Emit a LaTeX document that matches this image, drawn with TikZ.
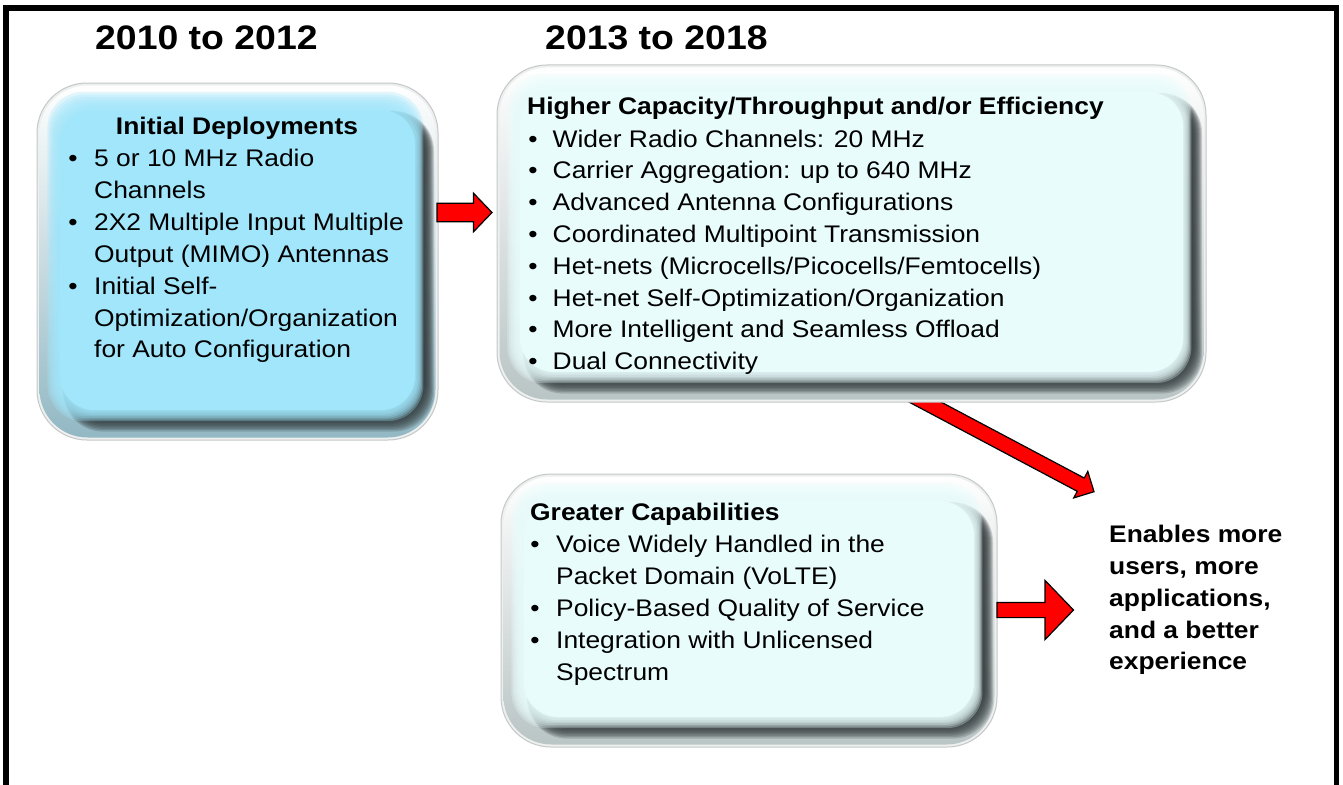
\documentclass[tikz,border=0pt]{standalone}
\usepackage{fontspec}
\setmainfont[FakeStretch=1.1]{Liberation Sans}
\usetikzlibrary{calc,fit}
\definecolor{facea}{HTML}{A1E6FB}
\definecolor{faceb}{HTML}{E8FCFC}
\definecolor{rimc}{HTML}{EEF0F0}
\definecolor{rimedge}{HTML}{C4C8C8}
\definecolor{darkbev}{HTML}{2F3739}
\definecolor{arrowred}{HTML}{FF0000}
\tikzset{
 txt/.style={anchor=base west, inner sep=0pt, font=\fontsize{24}{31.8}\selectfont},
 btxt/.style={anchor=base west, inner sep=0pt, font=\fontsize{24}{31.8}\selectfont\bfseries},
 bul/.style={anchor=base, inner sep=0pt, font=\fontsize{24}{31.8}\selectfont},
 yeartxt/.style={anchor=base west, inner sep=0pt, font=\fontsize{34}{38}\selectfont\bfseries},
 blockarrow/.style={fill=arrowred, draw=black, line width=1.2pt, line join=miter},
 frameline/.style={draw=black, line width=5.5pt, line join=miter},
}
\newcommand\bevelbox[7]{%
 \fill[rimc, draw=rimedge, line width=1pt, rounded corners=50pt] (#2,#3) rectangle (#4,#5);
 \begin{scope}
  \clip[rounded corners=48pt] ({#2+2.5},{#3+2.5}) rectangle ({#4-2.5},{#5-2.5});
  \shade[top color=white, bottom color=#7] (#2,#3) rectangle (#4,#5);
  \foreach \k in {0,...,9}{
   \fill[darkbev, opacity=0.2, rounded corners=40pt] ({#2+26},{#3+28}) rectangle ({#4-13+\k},{#5-21+1.4*\k});}
  \foreach \k in {7,6,...,1}{
   \fill[#6, opacity=0.3, rounded corners=36pt] ({#2+23-1.8*\k},{#3+27-2.6*\k}) rectangle ({#4-23+1.2*\k},{#5-30+1.6*\k});}
  \fill[#6, rounded corners=34pt] ({#2+23},{#3+27}) rectangle ({#4-23},{#5-30});
 \end{scope}
 \node[inner sep=0pt, fit={(#2,#3) (#4,#5)}] (#1) {};
}
\newcommand\blockarr[5]{%
 \coordinate (#1h) at ($(#2)!#5!(#1)$);
 \draw[blockarrow] ($(#1)!#3!90:(#2)$) -- ($(#1h)!#3!90:(#2)$) -- ($(#1h)!#4!90:(#2)$) -- (#2)
   -- ($(#1h)!#4!-90:(#2)$) -- ($(#1h)!#3!-90:(#2)$) -- ($(#1)!#3!-90:(#2)$) -- cycle;
}
\begin{document}
\begin{tikzpicture}[x=1pt,y=-1pt]
\useasboundingbox (0,0) rectangle (1343,784);
\fill[white] (0,0) rectangle (1343,784);
\draw[frameline] (6.2,800) -- (6.2,7.9) -- (1336.7,7.9) -- (1336.7,800);

% headings
\node[yeartxt] (y1) at (95,50) {2010 to 2012};
\node[yeartxt] (y2) at (545,50) {2013 to 2018};

% diagonal arrow (behind the top box)
\coordinate (dgs) at (891,384);
\coordinate (dgt) at (1094,491.7);
\blockarr{dgs}{dgt}{7.5pt}{15pt}{15pt}

% boxes
\bevelbox{topbox}{497}{65}{1206}{402}{faceb}{faceb!55!gray}
\bevelbox{leftbox}{37}{83}{438}{440}{facea}{facea!55!gray}
\bevelbox{botbox}{501}{474}{997}{747}{faceb}{faceb!55!gray}

% horizontal arrows
\coordinate (tas) at (437,212.5);
\coordinate (tat) at (492,212.5);
\blockarr{tas}{tat}{9.3pt}{19.3pt}{18.5pt}
\coordinate (bas) at (997,610);
\coordinate (bat) at (1073.5,610);
\blockarr{bas}{bat}{7.6pt}{29.6pt}{28.5pt}

% left box text
\node[btxt, anchor=base] (ltitle) at (237,134) {Initial Deployments};
\node[bul] (lb1) at (73,166.5) {\textbullet};
\node[txt] (l1) at (94,166.5) {5 or 10 MHz Radio};
\node[txt] (l2) at (94,198) {Channels};
\node[bul] (lb2) at (73,230) {\textbullet};
\node[txt] (l3) at (94,230) {2X2 Multiple Input Multiple};
\node[txt] (l4) at (94,262) {Output (MIMO) Antennas};
\node[bul] (lb3) at (73,294) {\textbullet};
\node[txt] (l5) at (94,294) {Initial Self-};
\node[txt] (l6) at (94,326) {Optimization/Organization};
\node[txt] (l7) at (94,357.5) {for Auto Configuration};

% top box text
\node[btxt] (rtitle) at (527,114) {Higher Capacity/Throughput and/or Efficiency};
\node[bul] (rb1) at (533,147) {\textbullet};
\node[txt] (r1) at (552.5,147) {Wider Radio Channels: 20 MHz};
\node[bul] (rb2) at (533,178.8) {\textbullet};
\node[txt] (r2) at (552.5,178.8) {Carrier Aggregation: up to 640 MHz};
\node[bul] (rb3) at (533,210.6) {\textbullet};
\node[txt] (r3) at (552.5,210.6) {Advanced Antenna Configurations};
\node[bul] (rb4) at (533,242.4) {\textbullet};
\node[txt] (r4) at (552.5,242.4) {Coordinated Multipoint Transmission};
\node[bul] (rb5) at (533,274.2) {\textbullet};
\node[txt] (r5) at (552.5,274.2) {Het-nets (Microcells/Picocells/Femtocells)};
\node[bul] (rb6) at (533,306) {\textbullet};
\node[txt] (r6) at (552.5,306) {Het-net Self-Optimization/Organization};
\node[bul] (rb7) at (533,337.8) {\textbullet};
\node[txt] (r7) at (552.5,337.8) {More Intelligent and Seamless Offload};
\node[bul] (rb8) at (533,369.6) {\textbullet};
\node[txt] (r8) at (552.5,369.6) {Dual Connectivity};

% bottom box text
\node[btxt] (btitle) at (530,520) {Greater Capabilities};
\node[bul] (bb1) at (535,552) {\textbullet};
\node[txt] (b1) at (556,552) {Voice Widely Handled in the};
\node[txt] (b2) at (556,584) {Packet Domain (VoLTE)};
\node[bul] (bb2) at (535,616) {\textbullet};
\node[txt] (b3) at (556,616) {Policy-Based Quality of Service};
\node[bul] (bb3) at (535,648) {\textbullet};
\node[txt] (b4) at (556,648) {Integration with Unlicensed};
\node[txt] (b5) at (556,680) {Spectrum};

% result text
\node[btxt] (e1) at (1109,542.3) {Enables more};
\node[btxt] (e2) at (1109,574) {users, more};
\node[btxt] (e3) at (1109,606) {applications,};
\node[btxt] (e4) at (1109,638) {and a better};
\node[btxt] (e5) at (1109,669.5) {experience};
\end{tikzpicture}
\end{document}
